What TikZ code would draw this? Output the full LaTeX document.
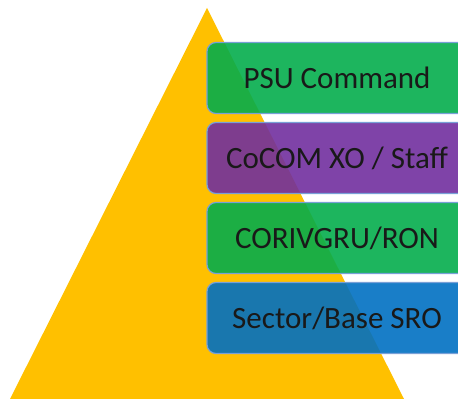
\documentclass[tikz,border=0pt]{standalone}
\usepackage{fontspec}
\setmainfont{Carlito}
\definecolor{tri}{RGB}{255,192,0}
\definecolor{grn}{RGB}{4,173,76}
\definecolor{prp}{RGB}{113,47,158}
\definecolor{blu}{RGB}{0,112,194}
\definecolor{edge}{RGB}{120,160,215}
\tikzset{
  level/.style={draw=edge, line width=1.2pt, rounded corners=9pt, fill opacity=0.9, text opacity=1,
    minimum width=260pt, minimum height=71pt, inner sep=0pt,
    font=\fontsize{31}{36}\selectfont, text=black!90}
}
\begin{document}
\begin{tikzpicture}[x=1pt,y=1pt]
\useasboundingbox (0,0) rectangle (458,399);
\clip (0,0) rectangle (458,399);
\fill[tri] (207,391) -- (404,0) -- (10,0) -- cycle;
\node[level, fill=grn] (psu) at (337,321) {PSU Command};
\node[level, fill=prp] (cocom) at (337,241) {CoCOM XO / Staff};
\node[level, fill=grn] (coriv) at (337,161) {CORIVGRU/RON};
\node[level, fill=blu] (sector) at (337,81) {Sector/Base SRO};
\end{tikzpicture}
\end{document}
